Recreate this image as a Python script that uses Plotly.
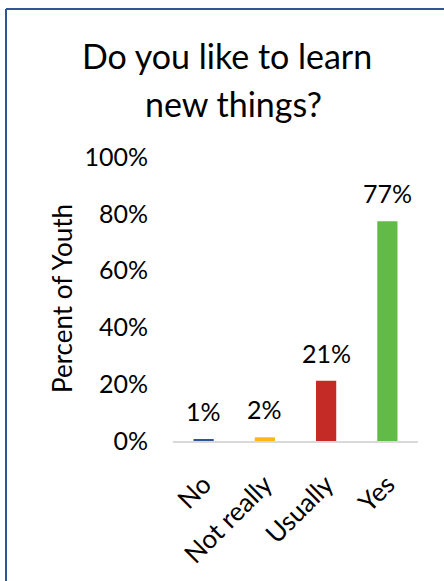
import plotly.graph_objects as go

categories = ["No", "Not really", "Usually", "Yes"]
values = [0.6, 1.3, 21.2, 77.4]
labels = ["1%", "2%", "21%", "77%"]
colors = ["#2F5597", "#FDB71A", "#C42B26", "#62BB46"]
ytick_vals = [0, 20, 40, 60, 80, 100]
ytick_text = ["0%", "20%", "40%", "60%", "80%", "100%"]
title_lines = ["Do you like to learn", "new things?"]
y_title = "Percent of Youth"

W, H = 444, 581
L, R, T, B = 173, 26, 157, 140
PW, PH = W - L - R, H - T - B
FONT = "Lato"


def px(x):
    return (x - L) / PW


def py(y):
    return (H - B - y) / PH


fig = go.Figure(
    go.Bar(
        x=categories,
        y=values,
        marker=dict(color=colors, line=dict(width=0)),
        hoverinfo="skip",
    )
)

annotations = []
for c, v, t in zip(categories, values, labels):
    annotations.append(dict(x=c, y=v, xref="x", yref="y", text=t, showarrow=False,
                            yanchor="middle", yshift=28,
                            font=dict(family=FONT, size=25, color="#000000")))
annotations.append(dict(x=px(227), y=py(56), xref="paper", yref="paper", text=title_lines[0],
                        showarrow=False, xanchor="center", yanchor="middle",
                        font=dict(family=FONT, size=34, color="#000000")))
annotations.append(dict(x=px(233), y=py(103), xref="paper", yref="paper", text=title_lines[1],
                        showarrow=False, xanchor="center", yanchor="middle",
                        font=dict(family=FONT, size=34, color="#000000")))
annotations.append(dict(x=px(62), y=0.5, xref="paper", yref="paper", text=y_title,
                        showarrow=False, textangle=-90, xanchor="center", yanchor="middle",
                        font=dict(family=FONT, size=26, color="#000000")))

border = "#2F5597"
shapes = [
    dict(type="line", xref="paper", yref="paper", x0=px(6), x1=px(6), y0=py(9), y1=py(620),
         line=dict(color=border, width=2)),
    dict(type="line", xref="paper", yref="paper", x0=px(6), x1=px(470), y0=py(9), y1=py(9),
         line=dict(color=border, width=2)),
]

fig.update_layout(
    width=W, height=H,
    margin=dict(l=L, r=R, t=T, b=B, autoexpand=False),
    paper_bgcolor="#FFFFFF", plot_bgcolor="#FFFFFF",
    bargap=0.67,
    showlegend=False,
    annotations=annotations,
    shapes=shapes,
    font=dict(family=FONT, color="#000000"),
    xaxis=dict(showline=True, linecolor="#D9D9D9", linewidth=2, showgrid=False,
               tickangle=-45, tickfont=dict(family=FONT, size=26, color="#000000"),
               ticks="", ticklabelstandoff=16, fixedrange=True),
    yaxis=dict(range=[0, 100], tickvals=ytick_vals, ticktext=ytick_text,
               showgrid=False, zeroline=False, showline=False, ticks="",
               ticklabelstandoff=24,
               tickfont=dict(family=FONT, size=25, color="#000000"), fixedrange=True),
)

fig.write_html("out.html", config={"displayModeBar": False},
               post_script="document.body.style.margin='0';document.body.style.overflow='hidden';")
